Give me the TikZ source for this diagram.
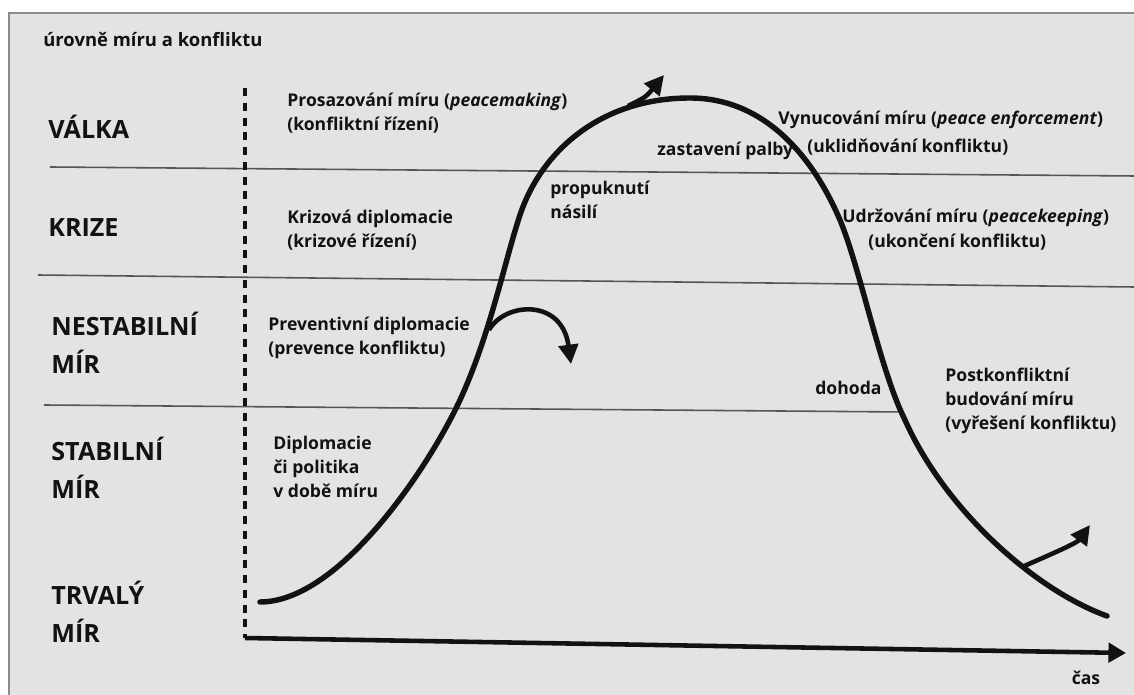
\documentclass[tikz,border=0pt]{standalone}
\usepackage{fontspec}
\setmainfont{Open Sans}
\usetikzlibrary{arrows.meta}
\definecolor{paper}{RGB}{227,227,227}
\definecolor{ink}{RGB}{18,18,18}
\definecolor{rulegray}{RGB}{85,85,85}
\definecolor{framegray}{RGB}{140,140,140}
\tikzset{
  lvl/.style={anchor=west, inner sep=0pt, align=left, text=ink, font=\fontsize{14.3}{21.5}\selectfont\bfseries},
  txt/.style={anchor=west, inner sep=0pt, align=left, text=ink, font=\fontsize{10}{13.5}\selectfont\bfseries},
  band/.style={draw=rulegray, line width=0.9pt},
  mcurve/.style={draw=ink, line width=3.1pt, line cap=round},
  branch/.style={draw=ink, line width=2.6pt, -{Triangle[length=11pt,width=11pt]}},
}
\begin{document}
\begin{tikzpicture}[x=0.02cm,y=-0.02cm]
\useasboundingbox (0,0) rectangle (1134,695);
\fill[white] (0,0) rectangle (1134,695);
\fill[paper] (9,13) rectangle (1134,695);
\draw[framegray, line width=1.2pt] (9,695) -- (9,13) -- (1134,13);

% level bands
\draw[band] (50,167) -- (1134,176);
\draw[band] (38,275) -- (1134,287);
\draw[band] (44,405) -- (903,412);

% axes
\coordinate (o) at (245,638);
\coordinate (dtop) at (245,88);
\coordinate (xend) at (1126,653);
\draw[ink, line width=1.9pt, dash pattern=on 4.6pt off 3.8pt] (dtop) -- (o);
\draw[ink, line width=2.6pt, -{Triangle[length=10pt,width=11pt]}] (o) -- (xend);

% main curve
\draw[mcurve] (260,602) .. controls (340,602) and (430,465) .. (460,400)
  .. controls (490,335) and (505,260) .. (520,215)
  .. controls (541,152) and (600,98) .. (690,98)
  .. controls (760,98) and (810,150) .. (840,220)
  .. controls (861,271) and (880,370) .. (905,420)
  .. controls (945,510) and (1035,590) .. (1107,616);

% branch arrows
\coordinate (b1) at (628,106);
\coordinate (t1) at (664,75);
\coordinate (b2) at (489,330);
\coordinate (t2) at (571,364);
\coordinate (b3) at (1022,567);
\coordinate (t3) at (1090,525);
\draw[branch] (b1) .. controls (646,97) .. (t1);
\draw[branch] (b2) .. controls (505,302) and (562,298) .. (t2);
\draw[branch] (b3) .. controls (1054,553) and (1077,543) .. (t3);

% title
\node[txt, font=\fontsize{10.5}{12}\selectfont\bfseries] (title) at (43,40) {úrovně míru a konfliktu};

% level labels
\node[lvl] (valka) at (48,127) {VÁLKA};
\node[lvl] (krize) at (48,228) {KRIZE};
\node[lvl] (nestab) at (51,343) {NESTABILNÍ\\MÍR};
\node[lvl] (stab) at (51,468) {STABILNÍ\\MÍR};
\node[lvl] (trval) at (51,612) {TRVALÝ\\MÍR};

% activity labels
\node[txt] (prosaz) at (287,113) {Prosazování míru (\textit{peacemaking})\\(konfliktní řízení)};
\node[txt] (krizdip) at (287,230) {Krizová diplomacie\\(krizové řízení)};
\node[txt] (prevdip) at (268,338) {Preventivní diplomacie\\(prevence konfliktu)};
\node[txt] (mirdip) at (273,467) {Diplomacie\\či politika\\v době míru};
\node[txt] (propuk) at (550,200) {propuknutí\\násilí};
\node[txt] (zastav) at (657,151) {zastavení palby};
\node[txt] (vyn1) at (778,120) {Vynucování míru (\textit{peace enforcement})};
\node[txt] (vyn2) at (807,147) {(uklidňování konfliktu)};
\node[txt] (udr1) at (842,218) {Udržování míru (\textit{peacekeeping})};
\node[txt] (udr2) at (868,242) {(ukončení konfliktu)};
\node[txt] (dohoda) at (815,388) {dohoda};
\node[txt] (postk) at (945,401) {Postkonfliktní\\budování míru\\(vyřešení konfliktu)};
\node[txt, anchor=center] (cas) at (1086,678) {čas};
\end{tikzpicture}
\end{document}
